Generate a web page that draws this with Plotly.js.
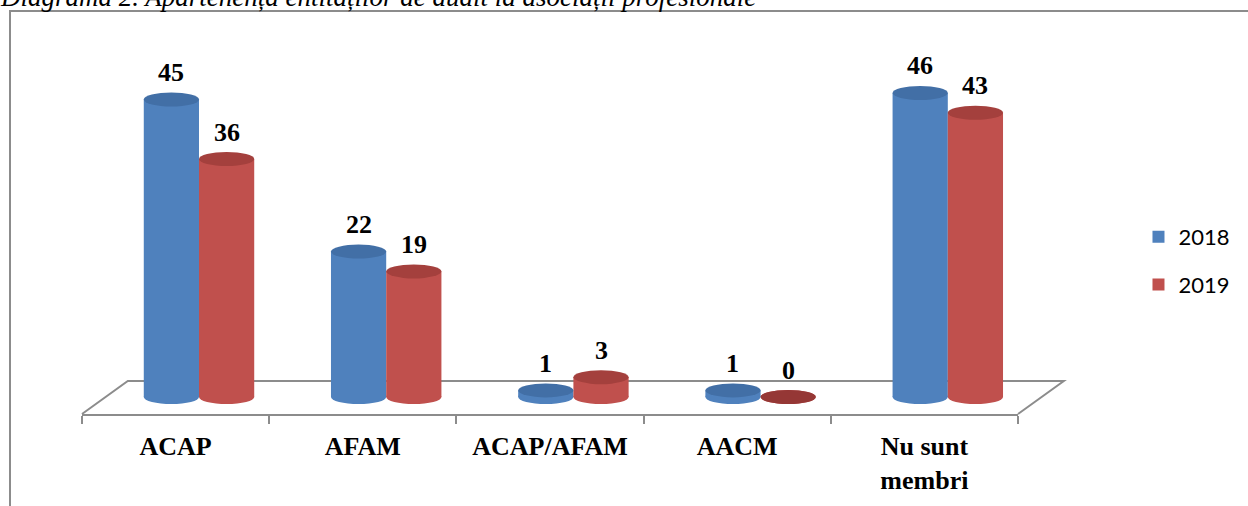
<!DOCTYPE html>
<html>
<head>
<meta charset="utf-8">
<script src="https://cdn.plot.ly/plotly-3.0.1.min.js"></script>
<style>
  html, body { margin: 0; padding: 0; background: #ffffff; overflow: hidden; }
  #wrap { position: relative; width: 1248px; height: 506px; }
  #frame { position: absolute; left: 9px; top: 10px; width: 1400px; height: 700px;
           border-left: 2px solid #8c8c8c; border-top: 2px solid #8c8c8c; }
  #chart { position: absolute; left: 0; top: 0; width: 1248px; height: 506px; }
</style>
</head>
<body>
<div id="wrap">
  <div id="frame"></div>
  <div id="chart"></div>
</div>
<script>
// ---- data ----
const categories = ['ACAP', 'AFAM', 'ACAP/AFAM', 'AACM', 'Nu sunt membri'];
const tickLabels = ['ACAP', 'AFAM', 'ACAP/AFAM', 'AACM', 'Nu sunt<br>membri'];
const seriesNames = ['2018', '2019'];
const values2018 = [45, 22, 1, 1, 46];
const values2019 = [36, 19, 3, 0, 43];
const chartTitle = 'Diagrama 2. Apartenența entităților de audit la asociații profesionale';

// ---- style ----
const sideColors = ['#4F81BD', '#C0504D'];
const topColors = ['#426FA6', '#A4403D'];
const barOffsets = [-0.17, 0.125];
const barWidth = 0.295;

const W = 1248, H = 506;
const M = { l: 82, r: 226, t: 30, b: 92 };
const plotW = W - M.l - M.r, plotH = H - M.t - M.b;
const pxPerUnit = 6.61;
const yMin = -17 / pxPerUnit;
const yMax = yMin + plotH / pxPerUnit;
const ellUnits = 7 / pxPerUnit;

const allSeries = [values2018, values2019];
const traces = allSeries.map((vals, s) => ({
  type: 'bar',
  name: seriesNames[s],
  legendgroup: 'g' + s,
  x: categories,
  y: vals,
  offset: barOffsets[s],
  width: barWidth,
  marker: { color: sideColors[s], line: { width: 0 } },
  hoverinfo: 'x+y+name'
}));

const shapes = [];
// floor of the 3-D plot (decoration)
const dx = 46 / plotW, dy = 33 / plotH;
shapes.push({
  type: 'path', xref: 'paper', yref: 'paper', layer: 'below',
  path: `M 0 0 L ${dx} ${dy} L ${1 + dx} ${dy} L 1 0`,
  line: { color: '#8c8c8c', width: 2 }
});
// cylinder ends
allSeries.forEach((vals, s) => {
  vals.forEach((v, i) => {
    const x0 = i + barOffsets[s], x1 = x0 + barWidth;
    shapes.push({ type: 'circle', xref: 'x', yref: 'y', layer: 'below',
      x0: x0, x1: x1, y0: -ellUnits, y1: ellUnits,
      fillcolor: sideColors[s], line: { width: 0 } });
  });
});
allSeries.forEach((vals, s) => {
  vals.forEach((v, i) => {
    const x0 = i + barOffsets[s], x1 = x0 + barWidth;
    shapes.push({ type: 'circle', xref: 'x', yref: 'y', layer: 'above',
      x0: x0, x1: x1, y0: v - ellUnits, y1: v + ellUnits,
      fillcolor: v === 0 ? '#953735' : topColors[s], line: { width: 0 } });
  });
});

const annotations = [];
allSeries.forEach((vals, s) => {
  vals.forEach((v, i) => {
    annotations.push({
      xref: 'x', yref: 'y', x: i + barOffsets[s] + barWidth / 2, y: v,
      text: String(v), showarrow: false, yshift: 27, yanchor: 'middle',
      font: { family: 'Liberation Serif', size: 26, color: '#000', weight: 'bold' }
    });
  });
});
annotations.push({
  xref: 'paper', yref: 'paper', x: (-2 - M.l) / plotW, xanchor: 'left',
  y: (M.t + plotH + 3) / plotH, yanchor: 'middle',
  text: '<i>' + chartTitle + '</i>', showarrow: false,
  font: { family: 'Liberation Serif', size: 27, color: '#000' }
});

const layout = {
  width: W, height: H,
  margin: M,
  paper_bgcolor: 'rgba(0,0,0,0)',
  plot_bgcolor: 'rgba(0,0,0,0)',
  barmode: 'overlay',
  showlegend: true,
  legend: {
    x: (1143 - M.l) / plotW, xanchor: 'left',
    y: (414 - 261) / plotH, yanchor: 'middle',
    font: { family: 'Lato', size: 22, color: '#000' },
    tracegroupgap: 16, traceorder: 'grouped',
    bgcolor: 'rgba(0,0,0,0)'
  },
  xaxis: {
    type: 'category',
    tickvals: categories, ticktext: tickLabels,
    range: [-0.5, 4.5],
    showline: true, linecolor: '#8c8c8c', linewidth: 2,
    ticks: 'outside', tickson: 'boundaries', ticklen: 8, tickwidth: 2, tickcolor: '#8c8c8c',
    ticklabelstandoff: 8,
    showgrid: false, zeroline: false,
    tickfont: { family: 'Liberation Serif', size: 26, color: '#000', weight: 'bold' }
  },
  yaxis: {
    range: [yMin, yMax], visible: false, showgrid: false, zeroline: false
  },
  shapes: shapes,
  annotations: annotations
};

Plotly.newPlot('chart', traces, layout, { displayModeBar: false, staticPlot: true });
</script>
</body>
</html>
